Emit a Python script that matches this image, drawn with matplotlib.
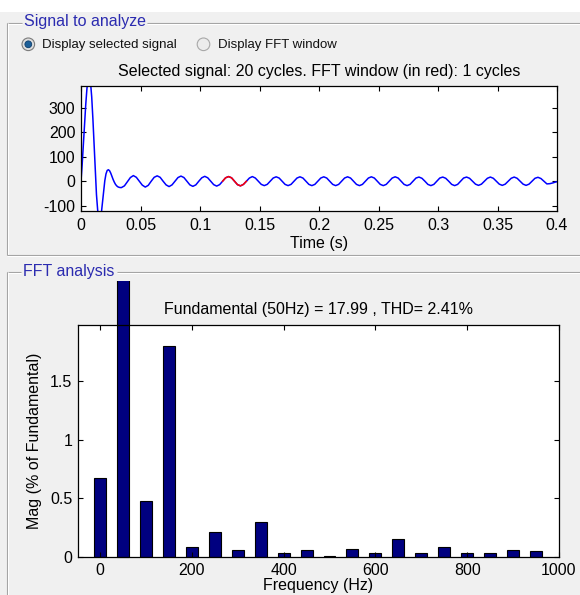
import numpy as np
import matplotlib
matplotlib.use("Agg")
import matplotlib.pyplot as plt
from matplotlib.patches import Rectangle, Circle
from matplotlib.ticker import FormatStrFormatter

# ---------------- data ----------------
# start-up transient of the selected signal (time in s, value)
time_transient = [0.000, 0.001, 0.002, 0.003, 0.004, 0.005, 0.006, 0.007, 0.008, 0.009,
                  0.010, 0.011, 0.012, 0.013, 0.014, 0.015, 0.016, 0.017, 0.018, 0.019,
                  0.020, 0.021, 0.022, 0.023, 0.024, 0.025, 0.026, 0.027, 0.028, 0.029,
                  0.030, 0.031, 0.032, 0.033]
signal_transient = [0, 70, 150, 235, 315, 380, 420, 430, 405, 345,
                    255, 150, 40, -55, -118, -148, -152, -135, -88, -38,
                    2, 30, 44, 47, 43, 33, 20, 7, -4, -13,
                    -19, -23, -25, -26]
# steady part, sampled every 2.5 ms starting at 0.034 s (8 samples per 50 Hz cycle)
steady_start = 0.034
steady_step = 0.0025
signal_steady = [
    -26, -19, -2, 15, 23, 16, 0, -16,
    -24, -17, 0, 16, 22, 16, 0, -15,
    -22, -15, 0, 15, 21, 15, 0, -15,
    -21, -15, 0, 14, 20, 14, 0, -14,
    -20, -14, 0, 14, 19, 14, 0, -14,
    -19, -13, 0, 13, 19, 13, 0, -13,
    -18, -13, 0, 13, 18, 13, 0, -13,
    -18, -13, 0, 13, 18, 13, 0, -13,
    -18, -13, 0, 13, 18, 13, 0, -13,
    -18, -13, 0, 13, 18, 13, 0, -13,
    -18, -13, 0, 13, 18, 13, 0, -13,
    -18, -13, 0, 13, 18, 13, 0, -13,
    -18, -13, 0, 13, 17, 12, 0, -13,
    -18, -13, 0, 13, 17, 12, 0, -13,
    -18, -13, 0, 13, 17, 12, 0, -12,
    -17, -12, 0, 12, 17, 12, 0, -12,
    -17, -12, 0, 12, 17, 12, 0, -12,
    -17, -12, 0, 12, 16, 11, 0, -11,
    -10, -7, -3,
]
signal_end = (0.4, -2)
fft_window = (0.119, 0.139)

time_ticks = [0, 0.05, 0.1, 0.15, 0.2, 0.25, 0.3, 0.35, 0.4]
signal_ticks = [-100, 0, 100, 200, 300]

harmonic_freqs = [0, 50, 100, 150, 200, 250, 300, 350, 400, 450,
                  500, 550, 600, 650, 700, 750, 800, 850, 900, 950]
harmonic_mags = [0.67, 100, 0.475, 1.80, 0.087, 0.21, 0.059, 0.295, 0.031, 0.059,
                 0.011, 0.067, 0.031, 0.152, 0.031, 0.087, 0.031, 0.031, 0.059, 0.048]
freq_ticks = [0, 200, 400, 600, 800, 1000]
mag_ticks = [0, 0.5, 1, 1.5]

top_title = "Selected signal: 20 cycles. FFT window (in red): 1 cycles"
fft_title = "Fundamental (50Hz) = 17.99 , THD= 2.41%"

# ---------------- figure ----------------
plt.rcParams['font.family'] = ['Liberation Sans', 'DejaVu Sans']
plt.rcParams['axes.unicode_minus'] = False
W, H = 580, 595
BG = '#f0f0f0'
fig = plt.figure(figsize=(W / 100, H / 100), dpi=100, facecolor=BG)

# background layer in pixel coordinates (panels, radio buttons)
bg = fig.add_axes([0, 0, 1, 1], zorder=0)
bg.set_xlim(0, W)
bg.set_ylim(H, 0)
bg.axis('off')
bg.add_patch(Rectangle((0, 0), W, 12, facecolor='white', edgecolor='none'))

def etched_h(x0, x1, y):
    bg.plot([x0, x1], [y, y], color='#a0a0a0', lw=0.8, solid_capstyle='butt')
    bg.plot([x0, x1], [y + 1, y + 1], color='white', lw=0.8, solid_capstyle='butt')

def etched_v(x, y0, y1):
    bg.plot([x, x], [y0, y1], color='#a0a0a0', lw=0.8, solid_capstyle='butt')
    bg.plot([x + 1, x + 1], [y0, y1], color='white', lw=0.8, solid_capstyle='butt')

panel_blue = '#2b2bb0'
# panel 1
etched_h(7, 22, 22.5)
etched_h(147, W, 22.5)
etched_v(7, 22.5, 255)
etched_h(7, W, 255)
bg.text(24.5, 21.5, 'Signal to analyze', color=panel_blue, fontsize=11.5,
        ha='left', va='center')
# panel 2
etched_h(7, 21, 272)
etched_h(117, W, 272)
etched_v(7, 272, H)
bg.text(23, 271.5, 'FFT analysis', color=panel_blue, fontsize=11.5,
        ha='left', va='center')

# radio buttons
bg.add_patch(Circle((28.3, 44.3), 6.3, facecolor='#dedede', edgecolor='#7c7c7c', lw=0.8))
bg.add_patch(Circle((28.3, 44.3), 3.4, facecolor='#1d5f98', edgecolor='#0e3e6c', lw=0.6))
bg.text(41.7, 44.8, 'Display selected signal', fontsize=9.5, ha='left', va='center',
        color='#111111')
bg.add_patch(Circle((203.5, 44.3), 6.3, facecolor='#ececec', edgecolor='#a8a8a8', lw=0.8))
bg.text(218.3, 44.8, 'Display FFT window', fontsize=9.5, ha='left', va='center',
        color='#111111')

# ---------------- top axes: signal ----------------
t = np.concatenate([np.array(time_transient),
                    np.round(steady_start + steady_step * np.arange(len(signal_steady)), 4),
                    [signal_end[0]]])
v = np.concatenate([np.array(signal_transient, float),
                    np.array(signal_steady, float),
                    [signal_end[1]]])

ax1 = fig.add_axes([81 / W, 1 - 211 / H, 476 / W, 125 / H], zorder=2)
ax1.plot(t, v, color='#0000ff', lw=1.1)
m = (t >= fft_window[0] - 1e-9) & (t <= fft_window[1] + 1e-9)
ax1.plot(t[m], v[m], color='#ff0000', lw=1.1)
ax1.set_xlim(0, 0.4)
ax1.set_ylim(-122, 390)
ax1.set_xticks(time_ticks)
ax1.set_yticks(signal_ticks)
ax1.xaxis.set_major_formatter(FormatStrFormatter('%g'))
ax1.tick_params(direction='in', top=True, right=True, length=3.5, width=0.8,
                labelsize=11.5, pad=5)
ax1.tick_params(axis='y', pad=4)
for s in ax1.spines.values():
    s.set_linewidth(0.9)
ax1.set_title(top_title, fontsize=11.5, pad=7.5)
ax1.set_xlabel('Time (s)', fontsize=11.5, labelpad=2)

# ---------------- bottom axes: FFT ----------------
ax2 = fig.add_axes([78 / W, 1 - 557 / H, 481 / W, 232 / H], zorder=3)
bars = ax2.bar(harmonic_freqs, harmonic_mags, width=26, color='#000080',
               edgecolor='black', lw=0.8)
# the fundamental bar runs past the axes and is cut by the panel frame
clip_rect = Rectangle((0, 0), 1, 1 - 281 / H, transform=fig.transFigure)
bars[1].set_clip_path(clip_rect)
ax2.set_xlim(-48, 1000)
ax2.set_ylim(0, 1.975)
ax2.set_xticks(freq_ticks)
ax2.set_yticks(mag_ticks)
ax2.yaxis.set_major_formatter(FormatStrFormatter('%g'))
ax2.tick_params(direction='in', top=True, right=True, length=3.5, width=0.8,
                labelsize=11.5, pad=4.5)
ax2.tick_params(axis='y', pad=4)
for s in ax2.spines.values():
    s.set_linewidth(0.9)
ax2.set_title(fft_title, fontsize=11.5, pad=8)
ax2.set_xlabel('Frequency (Hz)', fontsize=11.5, labelpad=0)
ax2.set_ylabel('Mag (% of Fundamental)', fontsize=11.5, labelpad=6)

fig.savefig('out.png', dpi=100, facecolor=BG)
